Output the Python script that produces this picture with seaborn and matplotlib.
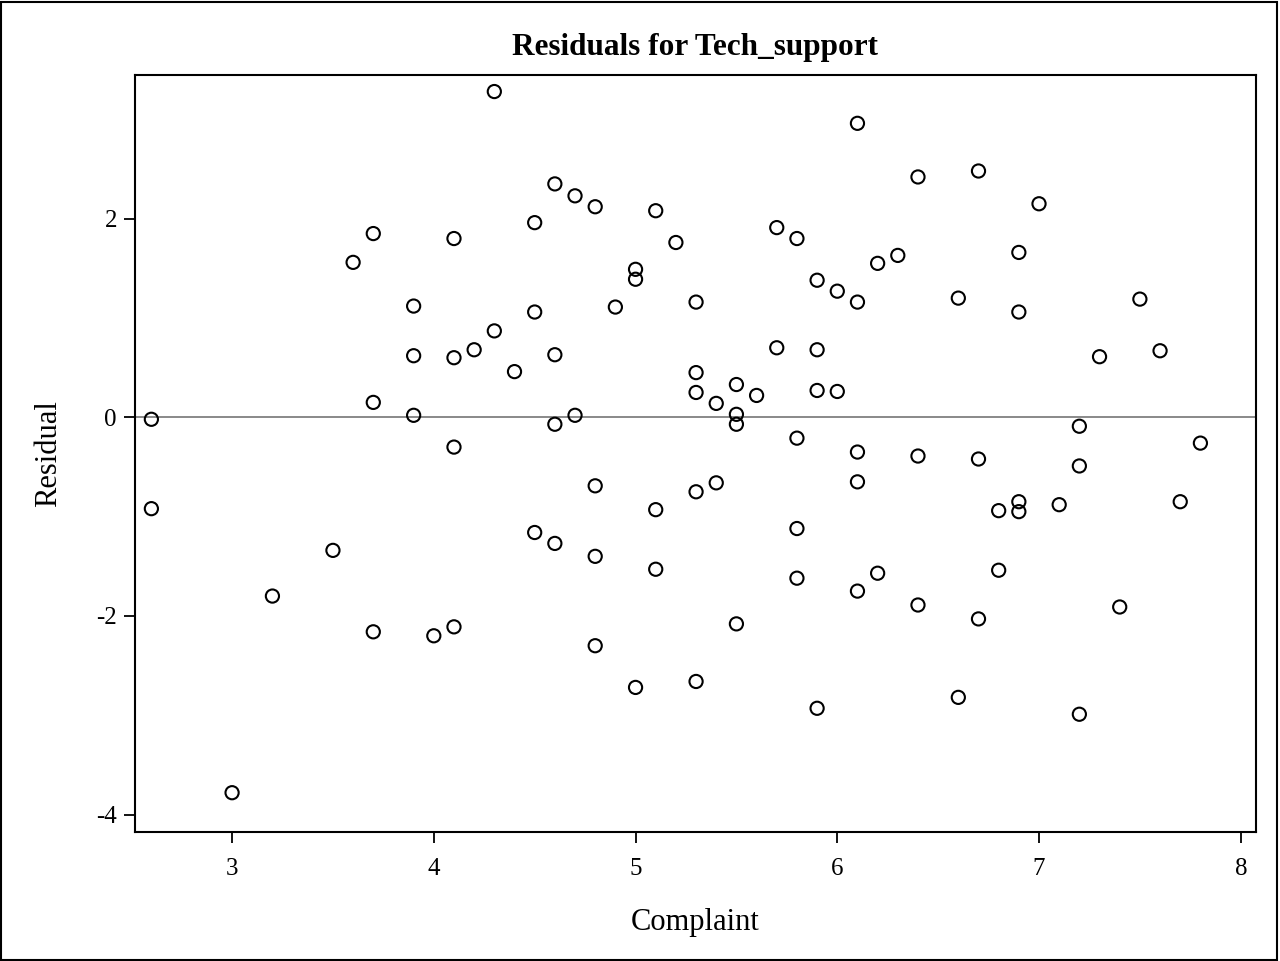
import matplotlib
matplotlib.use("Agg")
import matplotlib.pyplot as plt
import seaborn as sns
import pandas as pd
from matplotlib.patches import Rectangle

complaint = [2.6, 2.6, 3.0, 3.2, 3.5, 3.6, 3.7, 3.7, 3.7, 3.9, 3.9, 3.9, 4.0,
             4.1, 4.1, 4.1, 4.1, 4.2, 4.3, 4.3, 4.4, 4.5, 4.5, 4.5,
             4.6, 4.6, 4.6, 4.6, 4.7, 4.7, 4.8, 4.8, 4.8, 4.8, 4.9,
             5.0, 5.0, 5.0, 5.1, 5.1, 5.1, 5.2, 5.3, 5.3, 5.3, 5.3, 5.3,
             5.4, 5.4, 5.5, 5.5, 5.5, 5.5, 5.6, 5.7, 5.7, 5.8, 5.8, 5.8, 5.8,
             5.9, 5.9, 5.9, 5.9, 6.0, 6.0, 6.1, 6.1, 6.1, 6.1, 6.1,
             6.2, 6.2, 6.3, 6.4, 6.4, 6.4, 6.6, 6.6, 6.7, 6.7, 6.7,
             6.8, 6.8, 6.9, 6.9, 6.9, 6.9, 7.0, 7.1, 7.2, 7.2, 7.2,
             7.3, 7.4, 7.5, 7.6, 7.7, 7.8]
residual = [-0.02, -0.92, -3.78, -1.80, -1.34, 1.56, 1.85, 0.15, -2.16, 1.12, 0.62, 0.02, -2.20,
            1.80, 0.60, -0.30, -2.11, 0.68, 3.28, 0.87, 0.46, 1.96, 1.06, -1.16,
            2.35, 0.63, -0.07, -1.27, 2.23, 0.02, 2.12, -0.69, -1.40, -2.30, 1.11,
            1.49, 1.39, -2.72, 2.08, -0.93, -1.53, 1.76, 1.16, 0.45, 0.25, -0.75, -2.66,
            0.14, -0.66, 0.33, 0.03, -0.07, -2.08, 0.22, 1.91, 0.70, 1.80, -0.21, -1.12, -1.62,
            1.38, 0.68, 0.27, -2.93, 1.27, 0.26, 2.96, 1.16, -0.35, -0.65, -1.75,
            1.55, -1.57, 1.63, 2.42, -0.39, -1.89, 1.20, -2.82, 2.48, -0.42, -2.03,
            -0.94, -1.54, 1.66, 1.06, -0.85, -0.95, 2.15, -0.88, -0.09, -0.49, -2.99,
            0.61, -1.91, 1.19, 0.67, -0.85, -0.26]

x_ticks = [3, 4, 5, 6, 7, 8]
y_ticks = [-4, -2, 0, 2]

df = pd.DataFrame({"Complaint": complaint, "Residual": residual})

sns.set_style("ticks")
plt.rcParams['font.family'] = ['Liberation Serif', 'DejaVu Serif']
plt.rcParams['axes.unicode_minus'] = False

fig = plt.figure(figsize=(12.8, 9.61), dpi=100)
ax = fig.add_axes([0.1055, 0.1342, 0.8755, 0.7878])

ax.axhline(0, color="#808080", linewidth=1.3, zorder=1)
sns.scatterplot(data=df, x="Complaint", y="Residual", ax=ax, marker="o",
                s=90, facecolor="none", edgecolor="black", linewidth=1.5, zorder=3)

ax.set_xlim(2.519, 8.074)
ax.set_ylim(-4.176, 3.447)
ax.set_xticks(x_ticks)
ax.set_yticks(y_ticks)
ax.set_xticklabels([str(t) for t in x_ticks])
ax.set_yticklabels([str(t) for t in y_ticks])
ax.tick_params(direction="out", length=8, width=1.3, labelsize=18, color="black",
               labelcolor="black")
ax.tick_params(axis="x", pad=11)
ax.tick_params(axis="y", pad=5)
for sp in ax.spines.values():
    sp.set_visible(True)
    sp.set_linewidth(1.5)
    sp.set_color("black")

ax.set_xlabel("Complaint", fontsize=22, labelpad=20, color="black")
ax.set_ylabel("Residual", fontsize=22, labelpad=24, color="black")
ax.set_title("Residuals for Tech_support", fontsize=22.5, fontweight="bold", pad=14.5, color="black")

fig.patches.append(Rectangle((0.001, 0.001), 0.997, 0.997, transform=fig.transFigure,
                             fill=False, edgecolor="black", linewidth=1.5))

fig.savefig("out.png", dpi=100)
